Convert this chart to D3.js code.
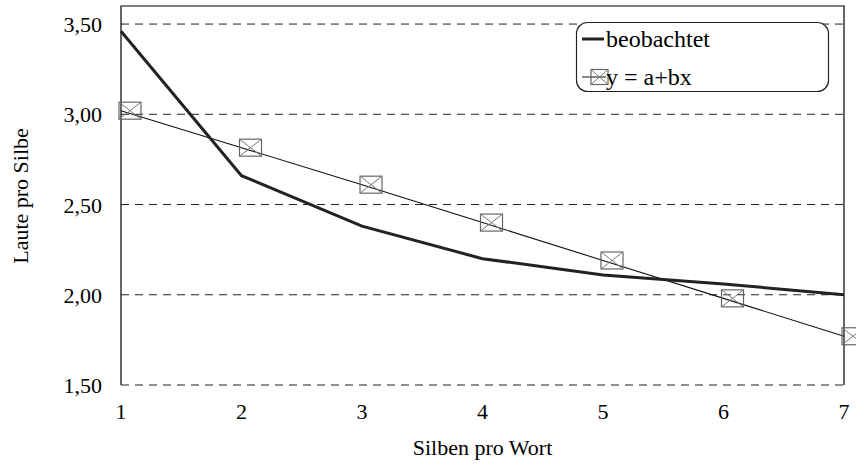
<!DOCTYPE html>
<html>
<head>
<meta charset="utf-8">
<script src="https://cdn.jsdelivr.net/npm/d3@7"></script>
</head>
<body style="margin:0">
<script>
var silben = [1, 2, 3, 4, 5, 6, 7];
var beobachtet = [3.46, 2.66, 2.38, 2.20, 2.11, 2.06, 2.00];
var geschaetzt = [3.02, 2.815, 2.61, 2.40, 2.19, 1.98, 1.77];
var yTicks = [1.5, 2.0, 2.5, 3.0, 3.5];
var legendLabels = ["beobachtet", "y = a+bx"];

var width = 856, height = 466;
var margin = {top: 6, right: 12, bottom: 81, left: 121};

function serif() { return "'Liberation Serif', monospace"; }

var svg = d3.select("body").append("svg")
    .attr("width", width)
    .attr("height", height);

var x = d3.scaleLinear().domain([1, 7]).range([margin.left, width - margin.right]);
var y = d3.scaleLinear().domain([1.5, 3.6]).range([height - margin.bottom, margin.top]);

var fmt = function(d) { return d3.format(".2f")(d).replace(".", ","); };

// dashed grid
svg.append("g").selectAll("line")
    .data(yTicks)
    .join("line")
    .attr("x1", x(1)).attr("x2", x(7))
    .attr("y1", function(d) { return y(d); })
    .attr("y2", function(d) { return y(d); })
    .style("stroke", "#222")
    .style("stroke-width", 1)
    .style("stroke-dasharray", "8,6");

// frame: left axis, top and right border
svg.append("path")
    .attr("d", "M" + x(1) + "," + y(1.5) + "V" + y(3.6) + "H" + x(7) + "V" + y(1.5))
    .style("fill", "none")
    .style("stroke", "#000")
    .style("stroke-width", 1.2);

// y axis labels
svg.append("g").selectAll("text")
    .data(yTicks)
    .join("text")
    .attr("x", x(1) - 19)
    .attr("y", function(d) { return y(d) + 8; })
    .attr("text-anchor", "end")
    .attr("font-family", serif)
    .attr("font-size", 22)
    .text(fmt);

// x axis labels
svg.append("g").selectAll("text")
    .data(silben)
    .join("text")
    .attr("x", function(d) { return x(d); })
    .attr("y", 419)
    .attr("text-anchor", "middle")
    .attr("font-family", serif)
    .attr("font-size", 22)
    .text(function(d) { return d; });

svg.append("text")
    .attr("x", (x(1) + x(7)) / 2)
    .attr("y", 455)
    .attr("text-anchor", "middle")
    .attr("font-family", serif)
    .attr("font-size", 22)
    .text("Silben pro Wort");

svg.append("text")
    .attr("transform", "translate(28,196) rotate(-90)")
    .attr("text-anchor", "middle")
    .attr("font-family", serif)
    .attr("font-size", 22)
    .text("Laute pro Silbe");

var line = d3.line()
    .x(function(d) { return x(d[0]); })
    .y(function(d) { return y(d[1]); });

// fitted line
svg.append("path")
    .datum(d3.zip(silben, geschaetzt))
    .attr("d", line)
    .style("fill", "none")
    .style("stroke", "#111")
    .style("stroke-width", 1.1);

// observed line
svg.append("path")
    .datum(d3.zip(silben, beobachtet))
    .attr("d", line)
    .style("fill", "none")
    .style("stroke", "#222")
    .style("stroke-width", 3);

function envelope(g, cx, cy, w, h) {
  var l = cx - 2, t = cy - h / 2;
  g.append("rect")
      .attr("x", l).attr("y", t).attr("width", w).attr("height", h)
      .style("fill", "none").style("stroke", "#666").style("stroke-width", 1.2);
  g.append("path")
      .attr("d", "M" + l + "," + t + "L" + (l + w) + "," + (t + h) +
                 "M" + (l + w) + "," + t + "L" + l + "," + (t + h))
      .style("fill", "none").style("stroke", "#777").style("stroke-width", 1);
}

var markers = svg.append("g");
silben.forEach(function(s, i) { envelope(markers, x(s), y(geschaetzt[i]), 22, 17); });

// legend
var lg = svg.append("g");
lg.append("rect")
    .attr("x", 576.5).attr("y", 22.5).attr("width", 252).attr("height", 69)
    .attr("rx", 11)
    .style("fill", "#fff")
    .style("stroke", "#222")
    .style("stroke-width", 1.2);
lg.append("line")
    .attr("x1", 582).attr("x2", 604).attr("y1", 39).attr("y2", 39)
    .style("stroke", "#222").style("stroke-width", 3);
lg.append("line")
    .attr("x1", 582).attr("x2", 606).attr("y1", 77).attr("y2", 77)
    .style("stroke", "#111").style("stroke-width", 1);
envelope(lg, 593, 77, 17, 15);
lg.selectAll("text.lab")
    .data(legendLabels)
    .join("text")
    .attr("class", "lab")
    .attr("x", function(d, i) { return i ? 606 : 606; })
    .attr("y", function(d, i) { return i ? 85 : 47; })
    .attr("font-family", serif)
    .attr("font-size", 24)
    .text(function(d) { return d; });
</script>
</body>
</html>
